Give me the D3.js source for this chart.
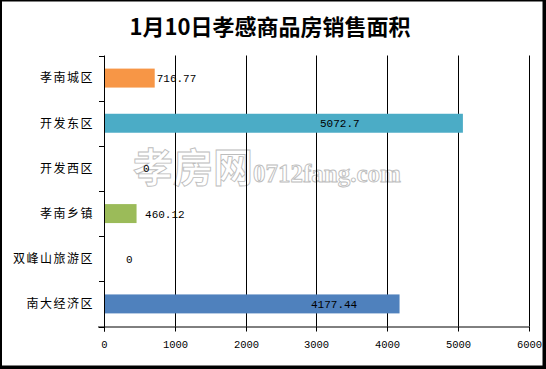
<!DOCTYPE html>
<html>
<head>
<meta charset="utf-8">
<script src="https://cdn.jsdelivr.net/npm/d3@7"></script>
<style>
  html, body { margin: 0; padding: 0; background: #fff; }
  svg { display: block; }
</style>
</head>
<body>
<svg id="chart" width="546" height="369"></svg>
<script>
// --- chart data ---
const titleText = "1月10日孝感商品房销售面积";
const categories = ["孝南城区", "开发东区", "开发西区", "孝南乡镇", "双峰山旅游区", "南大经济区"];
const values = [716.77, 5072.7, 0, 460.12, 0, 4177.44];
const labels = ["716.77", "5072.7", "0", "460.12", "0", "4177.44"];
const barColors = ["#F79646", "#4BACC6", "#4BACC6", "#9BBB59", "#4F81BD", "#4F81BD"];
const xTicks = [0, 1000, 2000, 3000, 4000, 5000, 6000];

// where each data label starts, in axis units (the original places them by hand)
const labelAt = [745, 3053, 551, 580, 311, 2926];

const W = 546, H = 369;
const plot = { left: 104, right: 528.5, top: 55.5, bottom: 326.5 };

const svg = d3.select("#chart");

// outer frame, heavier on right and bottom
svg.append("rect").attr("x", 0).attr("y", 0).attr("width", W).attr("height", H).attr("fill", "#fff");
svg.append("rect")
    .attr("x", 1).attr("y", 0.5).attr("width", W - 3.5).attr("height", H - 3)
    .attr("fill", "none").attr("stroke", "#000").attr("stroke-width", 2);
svg.append("line").attr("x1", W - 1.5).attr("x2", W - 1.5).attr("y1", 0).attr("y2", H)
    .attr("stroke", "#000").attr("stroke-width", 3);
svg.append("line").attr("x1", 0).attr("x2", W).attr("y1", H - 1.5).attr("y2", H - 1.5)
    .attr("stroke", "#000").attr("stroke-width", 3);

// title
svg.append("text")
    .attr("x", 270).attr("y", 35)
    .attr("text-anchor", "middle")
    .style("font-family", "'Noto Sans CJK SC', sans-serif")
    .style("font-weight", "bold")
    .style("font-size", "22px")
    .text(titleText);

const x = d3.scaleLinear().domain([0, 6000]).range([plot.left, plot.right]);
const y = d3.scaleBand().domain(categories)
    .range([plot.top, plot.bottom])
    .paddingInner(0.58).paddingOuter(0.29);

// watermark (outlined text)
const wm = svg.append("text")
    .attr("x", 133).attr("y", 182)
    .style("fill", "#fff").style("stroke", "#bdbdbd").style("stroke-width", 0.9);
wm.append("tspan").style("font-family", "'Noto Sans CJK SC', sans-serif")
    .style("font-size", "40px").style("font-weight", "bold").text("孝房网");
wm.append("tspan").style("font-family", "'Liberation Serif', serif")
    .style("font-size", "25px").style("font-weight", "bold").text("0712fang.com");

// vertical gridlines
svg.append("g").selectAll("line")
    .data(xTicks.slice(1))
    .enter().append("line")
    .attr("x1", d => Math.round(x(d)) + 0.5).attr("x2", d => Math.round(x(d)) + 0.5)
    .attr("y1", plot.top).attr("y2", plot.bottom)
    .attr("stroke", "#000").attr("stroke-width", 1);

// bars
svg.append("g").selectAll("rect")
    .data(values)
    .enter().append("rect")
    .attr("x", x(0))
    .attr("y", (d, i) => y(categories[i]))
    .attr("width", d => x(d) - x(0))
    .attr("height", y.bandwidth())
    .attr("fill", (d, i) => barColors[i]);

// data labels
svg.append("g").selectAll("text")
    .data(labels)
    .enter().append("text")
    .attr("x", (d, i) => x(labelAt[i]))
    .attr("y", (d, i) => y(categories[i]) + y.bandwidth() / 2)
    .attr("dy", "0.36em")
    .style("font-family", "'Liberation Mono', monospace")
    .style("font-size", "11px")
    .text(d => d);

// x axis
const xAxis = d3.axisBottom(x).tickValues(xTicks).tickSize(5).tickPadding(9).tickFormat(d3.format("d"));
const gx = svg.append("g").attr("transform", `translate(0,${plot.bottom})`).call(xAxis);
gx.select(".domain").attr("d", `M${plot.left - 6},0.5H${plot.right + 0.5}`).attr("stroke", "#000");
gx.selectAll(".tick line").attr("stroke", "#000");
gx.selectAll(".tick").attr("transform", d => `translate(${Math.round(x(d)) + 0.5},0)`);
gx.selectAll(".tick text")
    .style("font-family", "'Liberation Mono', monospace")
    .style("font-size", "10.5px")
    .attr("fill", "#000");

// y axis: category labels with ticks at band boundaries
const yAxis = svg.append("g");
yAxis.append("line")
    .attr("x1", plot.left + 0.5).attr("x2", plot.left + 0.5)
    .attr("y1", plot.top).attr("y2", plot.bottom + 5)
    .attr("stroke", "#000");
const bounds = categories.map(c => y(c) - y.step() * y.paddingInner() / 2).concat([plot.bottom]);
yAxis.selectAll("line.yt")
    .data(bounds)
    .enter().append("line")
    .attr("class", "yt")
    .attr("x1", plot.left - 5).attr("x2", plot.left)
    .attr("y1", d => Math.round(d) + 0.5).attr("y2", d => Math.round(d) + 0.5)
    .attr("stroke", "#000");
yAxis.selectAll("text")
    .data(categories)
    .enter().append("text")
    .attr("x", plot.left - 10)
    .attr("y", d => y(d) + y.bandwidth() / 2)
    .attr("dy", "0.36em")
    .attr("text-anchor", "end")
    .style("font-family", "'Noto Sans CJK SC', sans-serif")
    .style("font-size", "12px")
    .style("letter-spacing", "1.5px")
    .text(d => d);
</script>
</body>
</html>
